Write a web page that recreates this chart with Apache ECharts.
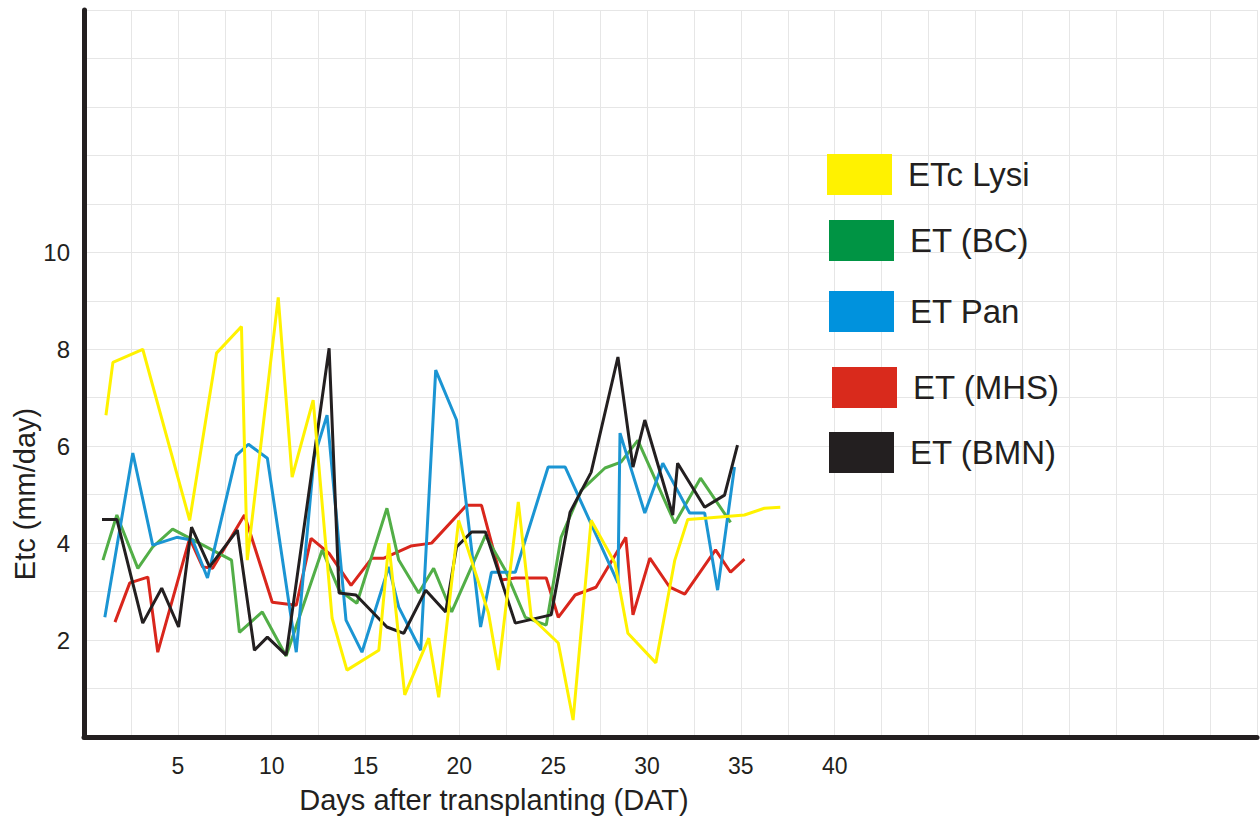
<!DOCTYPE html>
<html>
<head>
<meta charset="utf-8">
<script src="https://cdn.jsdelivr.net/npm/echarts@6/dist/echarts.min.js"></script>
<style>html,body{margin:0;padding:0;background:#fff;}#c{width:1260px;height:816px;}</style>
</head>
<body>
<div id="c"></div>
<script>
// ---- data: [day after transplanting, value (mm/day)] ----
const seriesNames = ['ETc Lysi', 'ET (BC)', 'ET Pan', 'ET (MHS)', 'ET (BMN)'];

const etcLysi = [[1.17,6.64],[1.54,7.73],[3.13,8.00],[5.63,4.47],[7.06,7.92],[8.39,8.47],[8.70,3.65],[10.35,9.07],[11.09,5.36],[12.21,6.95],[13.22,2.45],[14.01,1.38],[15.71,1.79],[16.24,4.00],[17.09,0.87],[18.37,2.04],[18.90,0.82],[19.96,4.47],[21.55,2.56],[22.08,1.38],[23.14,4.85],[23.83,2.47],[25.27,1.94],[26.06,0.35],[27.02,4.47],[28.29,3.59],[28.98,2.14],[30.47,1.53],[31.48,3.65],[32.17,4.49],[33.23,4.52],[35.19,4.58],[36.25,4.72],[37.10,4.74]];

const etBC = [[1.01,3.65],[1.75,4.58],[2.87,3.48],[3.66,3.92],[4.72,4.29],[7.86,3.65],[8.28,2.16],[9.50,2.58],[10.77,1.67],[12.69,3.86],[13.59,3.03],[14.54,2.76],[16.14,4.72],[16.77,3.65],[17.83,2.97],[18.63,3.48],[19.59,2.58],[21.39,4.16],[22.45,3.44],[23.51,2.47],[24.63,2.31],[25.42,4.12],[26.49,5.09],[27.76,5.55],[28.61,5.67],[29.51,6.12],[31.48,4.41],[32.85,5.34],[34.45,4.43]];

const etPan = [[1.11,2.47],[2.60,5.86],[3.66,3.96],[4.94,4.12],[5.79,4.06],[6.58,3.28],[8.12,5.81],[8.76,6.04],[9.77,5.75],[11.31,1.75],[12.26,5.77],[12.95,6.64],[13.96,2.41],[14.81,1.75],[16.24,3.51],[16.77,2.68],[17.94,1.79],[18.74,7.57],[19.85,6.54],[21.13,2.27],[21.71,3.40],[22.98,3.40],[24.73,5.57],[25.64,5.57],[28.45,3.18],[28.56,6.27],[29.88,4.62],[30.84,5.65],[32.27,4.62],[33.07,4.62],[33.76,3.03],[34.66,5.57]];

const etMHS = [[1.65,2.37],[2.44,3.18],[3.40,3.30],[3.93,1.75],[5.63,4.10],[6.32,3.51],[6.85,3.48],[8.55,4.58],[10.03,2.78],[11.31,2.72],[12.10,4.10],[13.06,3.79],[14.23,3.13],[15.34,3.69],[15.98,3.69],[17.41,3.94],[18.52,4.00],[20.38,4.78],[21.18,4.78],[22.24,3.24],[22.98,3.28],[24.63,3.28],[25.27,2.47],[26.17,2.93],[27.28,3.09],[28.87,4.12],[29.25,2.52],[30.15,3.69],[31.21,3.09],[32.01,2.95],[33.65,3.86],[34.45,3.40],[35.19,3.67]];

const etBMN = [[0.96,4.49],[1.75,4.49],[3.13,2.35],[4.14,3.07],[5.04,2.27],[5.73,4.33],[6.69,3.51],[8.17,4.27],[9.08,1.79],[9.77,2.06],[10.77,1.69],[13.06,8.02],[13.59,2.97],[14.49,2.93],[16.14,2.27],[17.04,2.14],[18.21,3.03],[19.27,2.58],[19.85,3.92],[20.65,4.23],[21.39,4.23],[22.98,2.35],[24.89,2.52],[25.90,4.64],[27.02,5.46],[28.45,7.84],[29.25,5.57],[29.88,6.54],[31.37,4.58],[31.63,5.65],[33.07,4.74],[34.13,4.99],[34.82,6.02]];

const xTickLabels = [5, 10, 15, 20, 25, 30, 35, 40];
const yTickLabels = [2, 4, 6, 8, 10];

// ---- styling ----
const lineColors = ['#fff200', '#52ae47', '#1b95d3', '#d9261c', '#231f20'];
const legendColors = ['#fff200', '#009444', '#0092dd', '#d92a1c', '#231f20'];
const legendLeft = [827, 829, 829, 832, 829];
const legendTop = [154, 220, 291, 367, 432];
const legendTextShift = [12, 12, 3, 0, 2];
const textColor = '#231f20';
const fontFam = '"Liberation Sans", Arial, sans-serif';

const allData = [etcLysi, etBC, etPan, etMHS, etBMN];
const zOrder = [6, 3, 4, 2, 5];

const chart = echarts.init(document.getElementById('c'), null, {renderer: 'svg'});
chart.setOption({
  animation: false,
  backgroundColor: '#fff',
  grid: {left: 84, top: 10, width: 1177.5, height: 727, containLabel: false},
  xAxis: {
    type: 'value', min: 0, max: 62.5, interval: 2.5,
    axisLine: {show: true, onZero: false, lineStyle: {color: textColor, width: 5}},
    axisTick: {show: false},
    splitLine: {show: true, lineStyle: {color: '#e6e6e6', width: 1}},
    axisLabel: {
      margin: 17, fontSize: 23, color: textColor, fontFamily: fontFam,
      formatter: v => xTickLabels.indexOf(v) >= 0 ? String(v) : ''
    }
  },
  yAxis: {
    type: 'value', min: 0, max: 15, interval: 1,
    axisLine: {show: true, lineStyle: {color: textColor, width: 5}},
    axisTick: {show: false},
    splitLine: {show: true, lineStyle: {color: '#e6e6e6', width: 1}},
    axisLabel: {
      margin: 14, fontSize: 24, color: textColor, fontFamily: fontFam,
      formatter: v => yTickLabels.indexOf(v) >= 0 ? String(v) : ''
    }
  },
  legend: seriesNames.map((n, i) => ({
    data: [{name: n, itemStyle: {color: legendColors[i], borderWidth: 0}}],
    left: legendLeft[i], top: legendTop[i], padding: 0,
    itemWidth: 65, itemHeight: 41, icon: 'rect', selectedMode: false,
    itemStyle: {borderWidth: 0},
    textStyle: {fontSize: 33, color: textColor, fontFamily: fontFam, padding: [legendTextShift[i], 0, 0, 11]}
  })),
  graphic: [
    {type: 'text', x: 494, y: 800, style: {text: 'Days after transplanting (DAT)', fill: textColor, font: '29px ' + fontFam, textAlign: 'center', textVerticalAlign: 'middle'}},
    {type: 'text', x: 25, y: 494, rotation: Math.PI / 2, style: {text: 'Etc (mm/day)', fill: textColor, font: '29px ' + fontFam, textAlign: 'center', textVerticalAlign: 'middle'}}
  ],
  series: seriesNames.map((n, i) => ({
    name: n, type: 'line', data: allData[i], showSymbol: false, symbol: 'none',
    z: zOrder[i], color: lineColors[i],
    lineStyle: {width: 3, color: lineColors[i]}
  }))
});
</script>
</body>
</html>
